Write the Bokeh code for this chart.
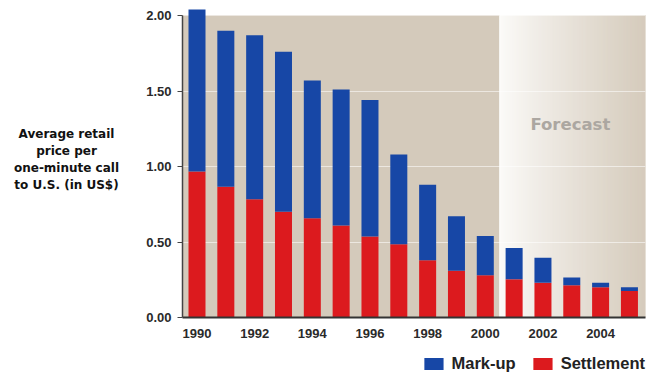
import numpy as np
from bokeh.plotting import figure
from bokeh.layouts import column, row
from bokeh.models import Label, Legend, LegendItem, ColumnDataSource, FixedTicker, NumeralTickFormatter
from bokeh.embed import file_html
from bokeh.resources import INLINE

years = [1990, 1991, 1992, 1993, 1994, 1995, 1996, 1997, 1998, 1999, 2000, 2001, 2002, 2003, 2004, 2005]
totals = [2.04, 1.90, 1.87, 1.76, 1.57, 1.51, 1.44, 1.08, 0.88, 0.67, 0.54, 0.46, 0.395, 0.265, 0.23, 0.20]
settlement = [0.967, 0.866, 0.784, 0.70, 0.658, 0.61, 0.536, 0.486, 0.38, 0.31, 0.28, 0.253, 0.23, 0.214, 0.20, 0.176]
markup = [round(t - s, 3) for t, s in zip(totals, settlement)]
x_ticks = [1990, 1992, 1994, 1996, 1998, 2000, 2002, 2004]
y_ticks = [0.0, 0.5, 1.0, 1.5, 2.0]
forecast_start = 2000.5
series_names = ["Mark-up", "Settlement"]
y_title = "Average retail\nprice per\none-minute call\nto U.S. (in US$)"

BEIGE = "#d4cabb"
BLUE = "#1747a6"
RED = "#dc1a1e"

x_lo, x_hi = 1989.497, 2005.557
y_hi = 2.06

LEFT_W = 140

p = figure(width=647 - LEFT_W, height=345, output_backend="svg", toolbar_location=None,
           x_range=(x_lo, x_hi), y_range=(0, y_hi),
           min_border_left=182 - LEFT_W, min_border_right=2, min_border_top=6, min_border_bottom=28)
p.outline_line_color = None
p.background_fill_color = "white"

# background panels
p.quad(left=[x_lo], right=[forecast_start], bottom=[0], top=[2.0], color=BEIGE, level="image")
n = 80
edges = np.linspace(forecast_start, x_hi, n + 1)
c0 = np.array([252, 251, 249])
c1 = np.array([214, 204, 189])
t = np.linspace(0, 1, n) ** 0.9
cols = ["#%02x%02x%02x" % tuple((c0 + (c1 - c0) * tt).astype(int)) for tt in t]
p.quad(left=edges[:-1], right=edges[1:] + 0.01, bottom=0, top=2.0, color=cols, level="image")

src = ColumnDataSource(dict(x=years, settlement=settlement, markup=markup))
rs = p.vbar_stack(["settlement", "markup"], x="x", width=0.59, source=src,
                  color=[RED, BLUE], line_color=None)

# grid
p.xgrid.grid_line_color = None
p.ygrid.grid_line_color = "white"
p.ygrid.grid_line_alpha = 0.55
p.ygrid.grid_line_width = 1
p.ygrid.ticker = FixedTicker(ticks=[0.5, 1.0, 1.5, 2.0])

# axes
p.yaxis.ticker = FixedTicker(ticks=y_ticks)
p.yaxis.formatter = NumeralTickFormatter(format="0.00")
p.yaxis.bounds = (0, 2.0)
p.yaxis.minor_tick_line_color = None
p.yaxis.major_tick_out = 5
p.yaxis.major_tick_in = 0
p.yaxis.axis_line_color = "#444444"
p.yaxis.major_tick_line_color = "#444444"
p.yaxis.axis_line_width = 1.5
p.yaxis.major_label_standoff = 6

p.xaxis.ticker = FixedTicker(ticks=x_ticks)
p.xaxis.minor_tick_line_color = None
p.xaxis.major_tick_line_color = None
p.xaxis.axis_line_color = "#333333"
p.xaxis.axis_line_width = 2
p.xaxis.major_label_standoff = 5

for ax in (p.xaxis, p.yaxis):
    ax.major_label_text_font = "Liberation Sans"
    ax.major_label_text_font_style = "bold"
    ax.major_label_text_font_size = "13px"
    ax.major_label_text_color = "#2a2a2a"

p.add_layout(Label(x=2002.95, y=1.28, text="Forecast", text_align="center", text_baseline="middle",
                   text_font="DejaVu Sans", text_font_style="bold", text_font_size="16.5px",
                   text_color="#aca7a1"))

# left strip with the y title
lt = figure(width=LEFT_W, height=345, output_backend="svg", toolbar_location=None,
            x_range=(0, 1), y_range=(0, 1), min_border=0,
            x_axis_location=None, y_axis_location=None)
lt.grid.visible = False
lt.outline_line_color = None
lt.add_layout(Label(x=66, y=158, x_units="screen", y_units="screen", text=y_title,
                    text_align="center", text_baseline="middle", text_font="DejaVu Sans",
                    text_font_style="bold", text_font_size="12px", text_color="#111111",
                    text_line_height=1.23))

# legend strip (bars fall outside its ranges; only the legend is seen)
q = figure(width=647, height=30, output_backend="svg", toolbar_location=None,
           x_range=(0, 1), y_range=(0, 1), min_border=0,
           x_axis_location=None, y_axis_location=None)
q.grid.visible = False
q.outline_line_color = None
qr = q.vbar_stack(["settlement", "markup"], x="x", width=0.59, source=src,
                  color=[RED, BLUE], line_color=None)
legend = Legend(items=[LegendItem(label=series_names[0], renderers=[qr[1]]),
                       LegendItem(label=series_names[1], renderers=[qr[0]])],
                orientation="horizontal", location="bottom_right", padding=0, margin=2,
                spacing=15, label_standoff=6, glyph_width=24, glyph_height=15,
                background_fill_alpha=0, border_line_color=None,
                label_text_font="Liberation Sans", label_text_font_style="bold",
                label_text_font_size="16.5px", label_text_color="#222222")
q.add_layout(legend)

layout = column(row(lt, p, spacing=0), q, spacing=0)
open("out.html", "w").write(file_html(layout, INLINE))
